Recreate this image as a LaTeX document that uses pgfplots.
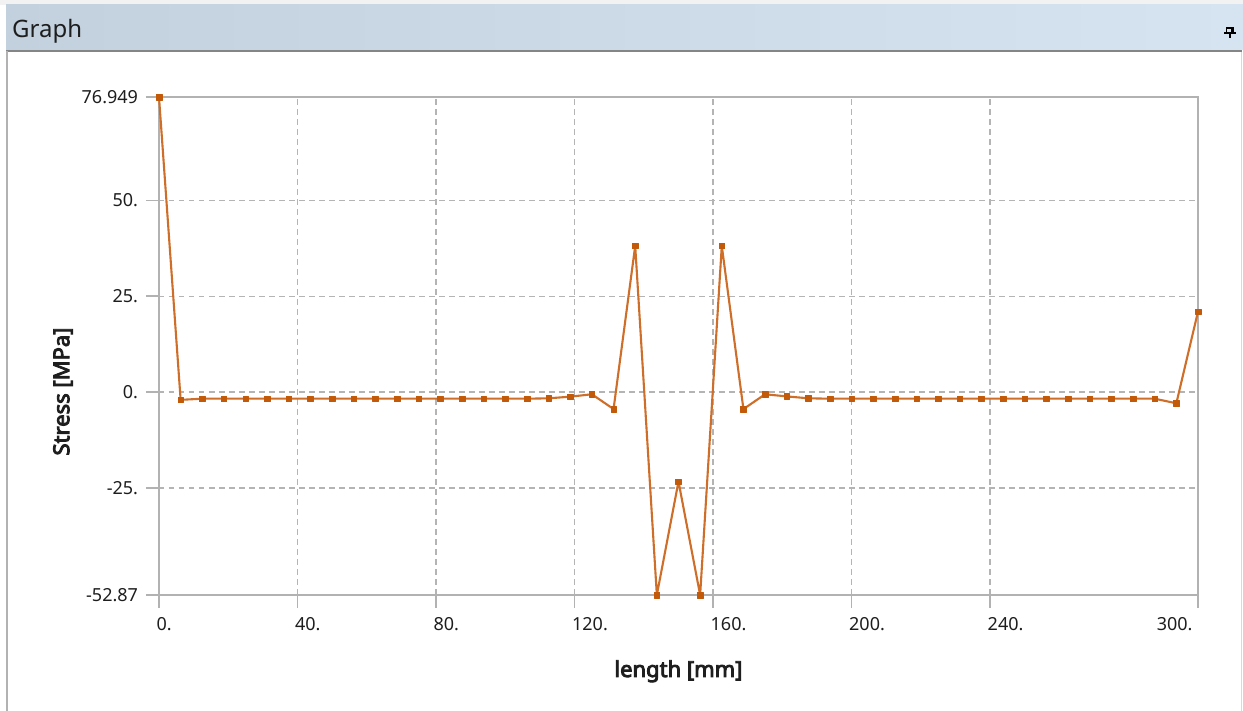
\documentclass[border=0pt]{standalone}
\usepackage{pgfplots}
\pgfplotsset{compat=1.18}
\usepackage{fontspec}
\setmainfont{Noto Sans}
\newfontfamily\labfont{Noto Sans}[FakeBold=4]
\definecolor{lineor}{RGB}{207,110,40}
\definecolor{markor}{RGB}{195,90,10}
\definecolor{axgray}{RGB}{178,178,178}
\definecolor{gridgray}{RGB}{180,180,180}
\definecolor{barL}{RGB}{195,209,223}
\definecolor{barR}{RGB}{214,227,241}
\definecolor{txt}{RGB}{30,30,30}
\pgfplotstableread{
x y
0 76.949
6.25 -2.0
12.5 -1.7
18.75 -1.7
25 -1.7
31.25 -1.7
37.5 -1.7
43.75 -1.7
50 -1.7
56.25 -1.7
62.5 -1.7
68.75 -1.7
75 -1.7
81.25 -1.7
87.5 -1.7
93.75 -1.7
100 -1.7
106.25 -1.7
112.5 -1.6
118.75 -1.17
125 -0.55
131.25 -4.4
137.5 38.14
143.75 -52.87
150 -23.3
156.25 -52.87
162.5 38.14
168.75 -4.4
175 -0.55
181.25 -1.1
187.5 -1.6
193.75 -1.7
200 -1.7
206.25 -1.7
212.5 -1.7
218.75 -1.7
225 -1.7
231.25 -1.7
237.5 -1.7
243.75 -1.7
250 -1.7
256.25 -1.7
262.5 -1.7
268.75 -1.7
275 -1.7
281.25 -1.7
287.5 -1.7
293.75 -2.9
300 21.0
}\stressdata
\begin{document}
\begin{tikzpicture}[x=1pt,y=1pt]
\useasboundingbox (0,0) rectangle (1243,711);
\fill[white] (0,0) rectangle (1243,711);
\fill[black!5] (0,706) rectangle (1243,711);
\shade[left color=barL, right color=barR] (6,661) rectangle (1243,706);
\draw[line width=2pt, color=black!48] (6,660) -- (1242,660);
\draw[line width=2pt, axgray] (7,0) -- (7,660);
\draw[line width=1pt, black!15] (1241.5,0) -- (1241.5,659);
\node[anchor=base west, font=\fontsize{24}{28}\selectfont, text=txt, inner sep=0] at (12,673) {Graph};
% pin icon
\draw[line width=1.4pt, black] (1226.5,683) rectangle (1232.5,678);
\draw[line width=2.2pt, black] (1232.5,683.5) -- (1232.5,678);
\draw[line width=1.6pt, black] (1224,678) -- (1236,678);
\draw[line width=1.4pt, black] (1230,678) -- (1230,673);
\begin{axis}[
  at={(159pt,116pt)}, anchor=south west,
  scale only axis, width=1039pt, height=498pt,
  xmin=0, xmax=300, ymin=-52.87, ymax=76.949,
  clip=false,
  axis line style={axgray, line width=1.6pt},
  xtick pos=bottom, ytick pos=left,
  xtick={0,40,80,120,160,200,240},
  xticklabels={0.,40.,80.,120.,160.,200.,240.},
  extra x ticks={300}, extra x tick labels={300.},
  extra x tick style={grid=none, xticklabel style={anchor=north east, xshift=4pt}},
  ytick={-25,0,25,50},
  yticklabels={-25.,0.,25.,50.},
  extra y ticks={-52.87,76.949}, extra y tick labels={-52.87,76.949},
  extra y tick style={grid=none},
  grid=major,
  grid style={gridgray, dash pattern=on 5.5pt off 4.5pt, line width=1.4pt},
  tick align=outside, major tick length=13pt,
  tick style={axgray, line width=1.6pt},
  xticklabel style={anchor=north west, xshift=-6pt, yshift=-6pt, font=\fontsize{18}{20}\selectfont, text=txt},
  yticklabel style={anchor=east, xshift=-4.5pt, font=\fontsize{18}{20}\selectfont, text=txt},
  xlabel={length [mm]},
  ylabel={Stress [MPa]},
  xlabel style={at={(axis description cs:0.5,0)}, anchor=base, yshift=-82pt, font=\fontsize{22}{26}\labfont, text=txt},
  ylabel style={at={(axis description cs:-0.0924,0.4086)}, anchor=center, font=\fontsize{22}{26}\labfont, text=txt},
]
\addplot[lineor, line width=2.1pt, line join=round, mark=square*, mark size=2.8pt,
  mark options={solid, fill=markor, draw=markor, line width=0.5pt}] table[x=x, y=y] {\stressdata};
\end{axis}
\end{tikzpicture}
\end{document}
